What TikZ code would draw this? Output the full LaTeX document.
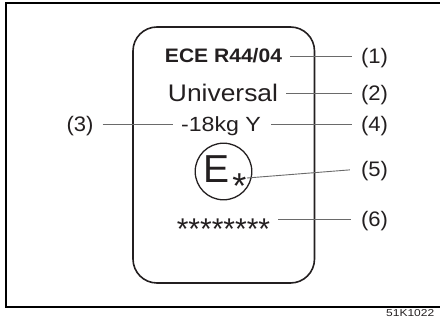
\documentclass[tikz,border=0pt]{standalone}
\usepackage{fontspec}
\setmainfont{Liberation Sans}
\newcommand\sx[2]{\scalebox{#1}[1]{#2}}
\definecolor{ink}{HTML}{231F20}
\definecolor{leadc}{HTML}{6A6A6A}
\begin{document}
\begin{tikzpicture}[x=1pt,y=-1pt,
  txt/.style={inner sep=0pt, text depth=0pt, text=ink},
  lbl/.style={txt, font=\fontsize{21}{21}\selectfont, text height=15pt},
  lead/.style={draw=leadc, line width=0.9pt},
  card/.style={draw=ink, line width=1.6pt, rounded corners=24pt},
  frame/.style={draw=black, line width=2pt}]
\useasboundingbox (0,0) rectangle (440,323);
% outer frame (open at right)
\draw[frame] (446,3) -- (6,3) -- (6,307.5) -- (446,307.5);
% card
\draw[card] (133,27) rectangle (314.5,283);
% texts
\node[txt, font=\bfseries\fontsize{19.5}{20}\selectfont, text height=14pt] (ece) at (223.5,56) {\sx{1.08}{ECE R44/04}};
\node[txt, font=\fontsize{24}{24}\selectfont, text height=17.2pt] (univ) at (223,93) {\sx{1.1}{Universal}};
\node[txt, font=\fontsize{20.5}{21}\selectfont, text height=14.7pt] (kg) at (221,124) {\sx{1.13}{-18kg Y}};
\node[txt, font=\fontsize{39}{39}\selectfont, text height=28pt] (E) at (216.7,169) {E};
\node[txt, font=\fontsize{36}{36}\selectfont, anchor=base, text height=26pt] (ast) at (239.5,199) {*};
\node[draw=ink, line width=1.3pt, circle, minimum size=56.6pt, inner sep=0pt] (emark) at (223.5,171.5) {};
\node[txt, font=\fontsize{30}{30}\selectfont, anchor=base, text height=21pt] (stars) at (223.5,240) {********};
% labels
\node[lbl] (l1) at (374.5,56) {\sx{1.05}{(1)}};
\node[lbl] (l2) at (374.5,93) {\sx{1.05}{(2)}};
\node[lbl] (l3) at (80,124) {\sx{1.05}{(3)}};
\node[lbl] (l4) at (374.5,124) {\sx{1.05}{(4)}};
\node[lbl] (l5) at (374.5,169) {\sx{1.05}{(5)}};
\node[lbl] (l6) at (374.5,219) {\sx{1.05}{(6)}};
% leader lines
\draw[lead, shorten <=8pt, shorten >=9pt] (ece.east |- l1) -- (l1.west);
\draw[lead, shorten <=8pt, shorten >=9pt] (univ.east |- l2) -- (l2.west);
\draw[lead, shorten <=9pt, shorten >=8pt] (l3.east) -- (kg.west |- l3);
\draw[lead, shorten <=10pt, shorten >=9pt] (kg.east |- l4) -- (l4.west);
\coordinate (a5) at (247,178);
\draw[lead, shorten >=11pt] (a5) -- (l5.west);
\draw[lead, shorten <=8pt, shorten >=10pt] (stars.east |- l6) -- (l6.west);
% footer code
\node[txt, font=\fontsize{10}{10}\selectfont, anchor=base west] (code) at (386,317) {\sx{1.2}{51K1022}};
\end{tikzpicture}
\end{document}
